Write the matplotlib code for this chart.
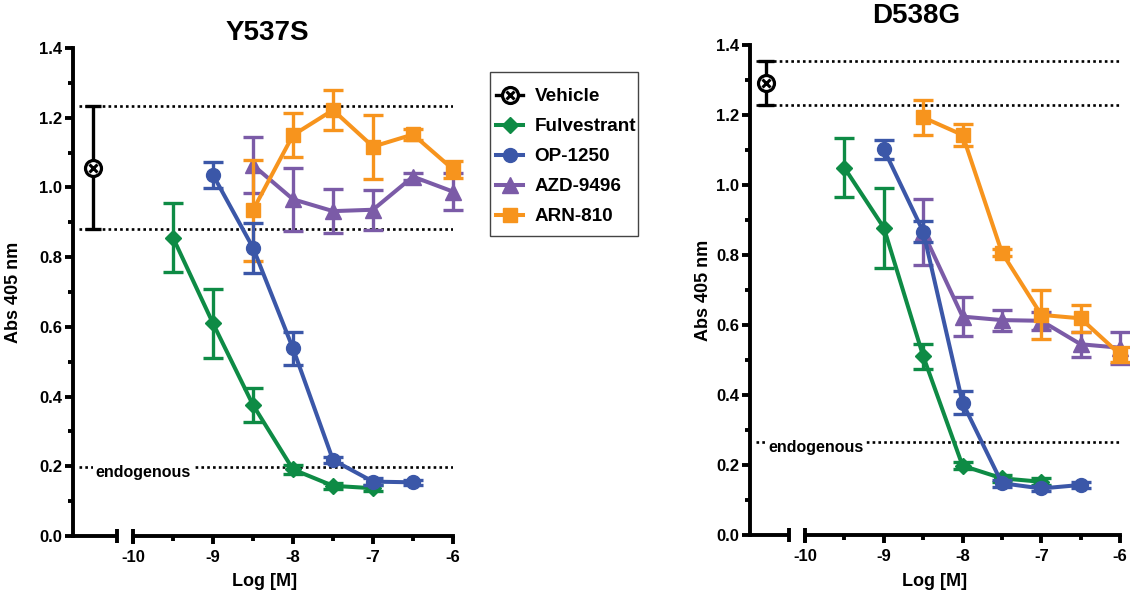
import matplotlib
matplotlib.use('Agg')
import matplotlib.pyplot as plt
from matplotlib.lines import Line2D
from matplotlib.patches import Rectangle
import matplotlib.transforms as mtransforms

plt.rcParams['font.family'] = ['Liberation Sans', 'DejaVu Sans']
plt.rcParams['font.weight'] = 'bold'

# ---------------- data ----------------
series_names = ['Vehicle', 'Fulvestrant', 'OP-1250', 'AZD-9496', 'ARN-810']
xtick_vals = [-10, -9, -8, -7, -6]
xtick_labels = ['-10', '-9', '-8', '-7', '-6']
ytick_vals = [0.0, 0.2, 0.4, 0.6, 0.8, 1.0, 1.2, 1.4]
ytick_labels = ['0.0', '0.2', '0.4', '0.6', '0.8', '1.0', '1.2', '1.4']
vehicle_x = -10.5

# Y537S
y537_vehicle = 1.057
y537_vehicle_err = 0.176
y537_fulv_x = [-9.5, -9, -8.5, -8, -7.5, -7]
y537_fulv = [0.856, 0.610, 0.376, 0.191, 0.144, 0.137]
y537_fulv_err = [0.10, 0.10, 0.05, 0.012, 0.008, 0.008]
y537_op_x = [-9, -8.5, -8, -7.5, -7, -6.5]
y537_op = [1.036, 0.827, 0.538, 0.218, 0.156, 0.154]
y537_op_err = [0.037, 0.072, 0.046, 0.01, 0.01, 0.008]
y537_azd_x = [-8.5, -8, -7.5, -7, -6.5, -6]
y537_azd = [1.064, 0.966, 0.932, 0.936, 1.031, 0.988]
y537_azd_err = [0.08, 0.09, 0.063, 0.058, 0.01, 0.053]
y537_arn_x = [-8.5, -8, -7.5, -7, -6.5, -6]
y537_arn = [0.935, 1.150, 1.222, 1.117, 1.152, 1.052]
y537_arn_err = [0.145, 0.064, 0.058, 0.092, 0.015, 0.024]
y537_endo = 0.199

# D538G
d538_vehicle = 1.292
d538_vehicle_err = 0.0625
d538_fulv_x = [-9.5, -9, -8.5, -8, -7.5, -7]
d538_fulv = [1.049, 0.878, 0.511, 0.198, 0.162, 0.152]
d538_fulv_err = [0.084, 0.114, 0.036, 0.01, 0.01, 0.01]
d538_op_x = [-9, -8.5, -8, -7.5, -7, -6.5]
d538_op = [1.102, 0.867, 0.378, 0.148, 0.133, 0.143]
d538_op_err = [0.027, 0.03, 0.033, 0.01, 0.008, 0.008]
d538_azd_x = [-8.5, -8, -7.5, -7, -6.5, -6]
d538_azd = [0.865, 0.624, 0.614, 0.612, 0.545, 0.535]
d538_azd_err = [0.094, 0.056, 0.03, 0.025, 0.036, 0.045]
d538_arn_x = [-8.5, -8, -7.5, -7, -6.5, -6]
d538_arn = [1.193, 1.143, 0.807, 0.629, 0.619, 0.516]
d538_arn_err = [0.05, 0.032, 0.01, 0.07, 0.038, 0.022]
d538_endo = 0.267

# ---------------- style ----------------
C_FULV = '#0e8b45'
C_OP = '#3b57a8'
C_AZD = '#7b5ba7'
C_ARN = '#f7941d'
LW = 2.9
ELW = 2.4
CAP = 7
AXW = 2.8

W, H = 1130, 595
fig = plt.figure(figsize=(W / 100, H / 100), dpi=100)


def px_axes(x0, y0, x1, y1):
    return fig.add_axes([x0 / W, 1 - y1 / H, (x1 - x0) / W, (y1 - y0) / H])


def draw_panel(ax, xmin, vehicle, vehicle_err, series, endo):
    ax.set_xlim(xmin, -6)
    ax.set_ylim(0, 1.4)
    for s in ['top', 'right', 'bottom']:
        ax.spines[s].set_visible(False)
    ax.spines['left'].set_linewidth(AXW)
    ax.set_yticks(ytick_vals)
    ax.set_yticklabels(ytick_labels)
    ax.set_yticks([0.1, 0.3, 0.5, 0.7, 0.9, 1.1, 1.3], minor=True)
    ax.set_xticks(xtick_vals)
    ax.set_xticklabels(xtick_labels)
    ax.set_xticks([-9.5, -8.5, -7.5, -6.5], minor=True)
    ax.tick_params(which='major', length=6, width=AXW, labelsize=12, direction='out')
    ax.tick_params(which='minor', length=3.5, width=AXW, direction='out')
    ax.tick_params(axis='y', pad=2)
    ax.tick_params(axis='x', pad=4)
    for lab in ax.get_xticklabels() + ax.get_yticklabels():
        lab.set_fontweight('bold')

    trans = mtransforms.blended_transform_factory(ax.transData, ax.transAxes)
    ax.plot([xmin, -10.2], [0, 0], transform=trans, color='k', lw=AXW,
            clip_on=False, solid_capstyle='butt', zorder=5)
    ax.plot([-10, -6], [0, 0], transform=trans, color='k', lw=AXW,
            clip_on=False, solid_capstyle='projecting', zorder=5)
    for xb in (-10.2, -10):
        ax.plot([xb, xb], [-0.015, 0.015], transform=trans, color='k', lw=AXW,
                clip_on=False, solid_capstyle='butt', zorder=5)

    # dotted reference lines
    dots = (0, (1, 1.2))
    for yv in (vehicle + vehicle_err, vehicle - vehicle_err, endo):
        ax.plot([xmin + 0.07, -6], [yv, yv], color='k', lw=1.9, ls=dots, zorder=1)
    ax.text(-10.47, endo - 0.016, 'endogenous', fontsize=11.5, fontweight='bold',
            va='center', ha='left', zorder=2,
            bbox=dict(facecolor='white', edgecolor='none', pad=1.5))

    # vehicle
    ax.errorbar([vehicle_x], [vehicle], yerr=[vehicle_err], color='k', lw=ELW,
                capsize=6, capthick=ELW, fmt='none', zorder=3, clip_on=False)
    ax.plot([vehicle_x], [vehicle], marker='o', ms=11.5, mfc='white', mec='k',
            mew=2.3, ls='none', zorder=4, clip_on=False)
    ax.plot([vehicle_x], [vehicle], marker='x', ms=6, mec='k', mew=2.2,
            ls='none', zorder=4, clip_on=False)

    z = 3
    for xs, ys, es, col, mk, ms in series:
        ax.errorbar(xs, ys, yerr=es, fmt='none', ecolor=col, elinewidth=ELW,
                    capsize=CAP, capthick=ELW, zorder=z, clip_on=False)
        ax.plot(xs, ys, color=col, lw=LW, marker=mk, ms=ms, mec=col, mfc=col,
                zorder=z + 0.5, clip_on=False)
        z += 1


axL = px_axes(73, 48, 453, 536)
draw_panel(axL, -10.75, y537_vehicle, y537_vehicle_err, [
    (y537_fulv_x, y537_fulv, y537_fulv_err, C_FULV, 'D', 8),
    (y537_azd_x, y537_azd, y537_azd_err, C_AZD, '^', 11.5),
    (y537_arn_x, y537_arn, y537_arn_err, C_ARN, 's', 10),
    (y537_op_x, y537_op, y537_op_err, C_OP, 'o', 10),
], y537_endo)

axR = px_axes(750, 45, 1120, 535)
draw_panel(axR, -10.70, d538_vehicle, d538_vehicle_err, [
    (d538_fulv_x, d538_fulv, d538_fulv_err, C_FULV, 'D', 8),
    (d538_azd_x, d538_azd, d538_azd_err, C_AZD, '^', 11.5),
    (d538_arn_x, d538_arn, d538_arn_err, C_ARN, 's', 10),
    (d538_op_x, d538_op, d538_op_err, C_OP, 'o', 10),
], d538_endo)

# titles and axis labels
fig.text(267 / W, 1 - 33 / H, 'Y537S', fontsize=20, fontweight='bold', ha='center', va='center')
fig.text(916 / W, 1 - 16 / H, 'D538G', fontsize=20, fontweight='bold', ha='center', va='center')
fig.text(265 / W, 1 - 582 / H, 'Log [M]', fontsize=13, fontweight='bold', ha='center', va='center')
fig.text(935 / W, 1 - 582 / H, 'Log [M]', fontsize=13, fontweight='bold', ha='center', va='center')
fig.text(14 / W, 1 - 292 / H, 'Abs 405 nm', fontsize=13, fontweight='bold', ha='center',
         va='center', rotation=90)
fig.text(703 / W, 1 - 290 / H, 'Abs 405 nm', fontsize=13, fontweight='bold', ha='center',
         va='center', rotation=90)

# legend
h_veh = (Line2D([], [], color='k', lw=2.4, marker='o', ms=11.5, mfc='white', mec='k', mew=2.3),
         Line2D([], [], color='k', lw=0, marker='x', ms=6, mec='k', mew=2.2))
h_fulv = Line2D([], [], color=C_FULV, lw=LW, marker='D', ms=8)
h_op = Line2D([], [], color=C_OP, lw=LW, marker='o', ms=10)
h_azd = Line2D([], [], color=C_AZD, lw=LW, marker='^', ms=11.5)
h_arn = Line2D([], [], color=C_ARN, lw=LW, marker='s', ms=10)
leg = fig.legend([h_veh, h_fulv, h_op, h_azd, h_arn], series_names,
                 loc='upper left', bbox_to_anchor=(496 / W, 1 - 88 / H),
                 borderaxespad=0, frameon=False,
                 prop={'weight': 'bold', 'size': 13.6}, handlelength=1.45,
                 labelspacing=0.68, handletextpad=0.6, borderpad=0)
fig.patches.append(Rectangle((490 / W, 1 - 236 / H), 148 / W, 164 / H,
                             transform=fig.transFigure, fill=False,
                             edgecolor='#444444', lw=1.0))

fig.savefig('out.png', dpi=100)
